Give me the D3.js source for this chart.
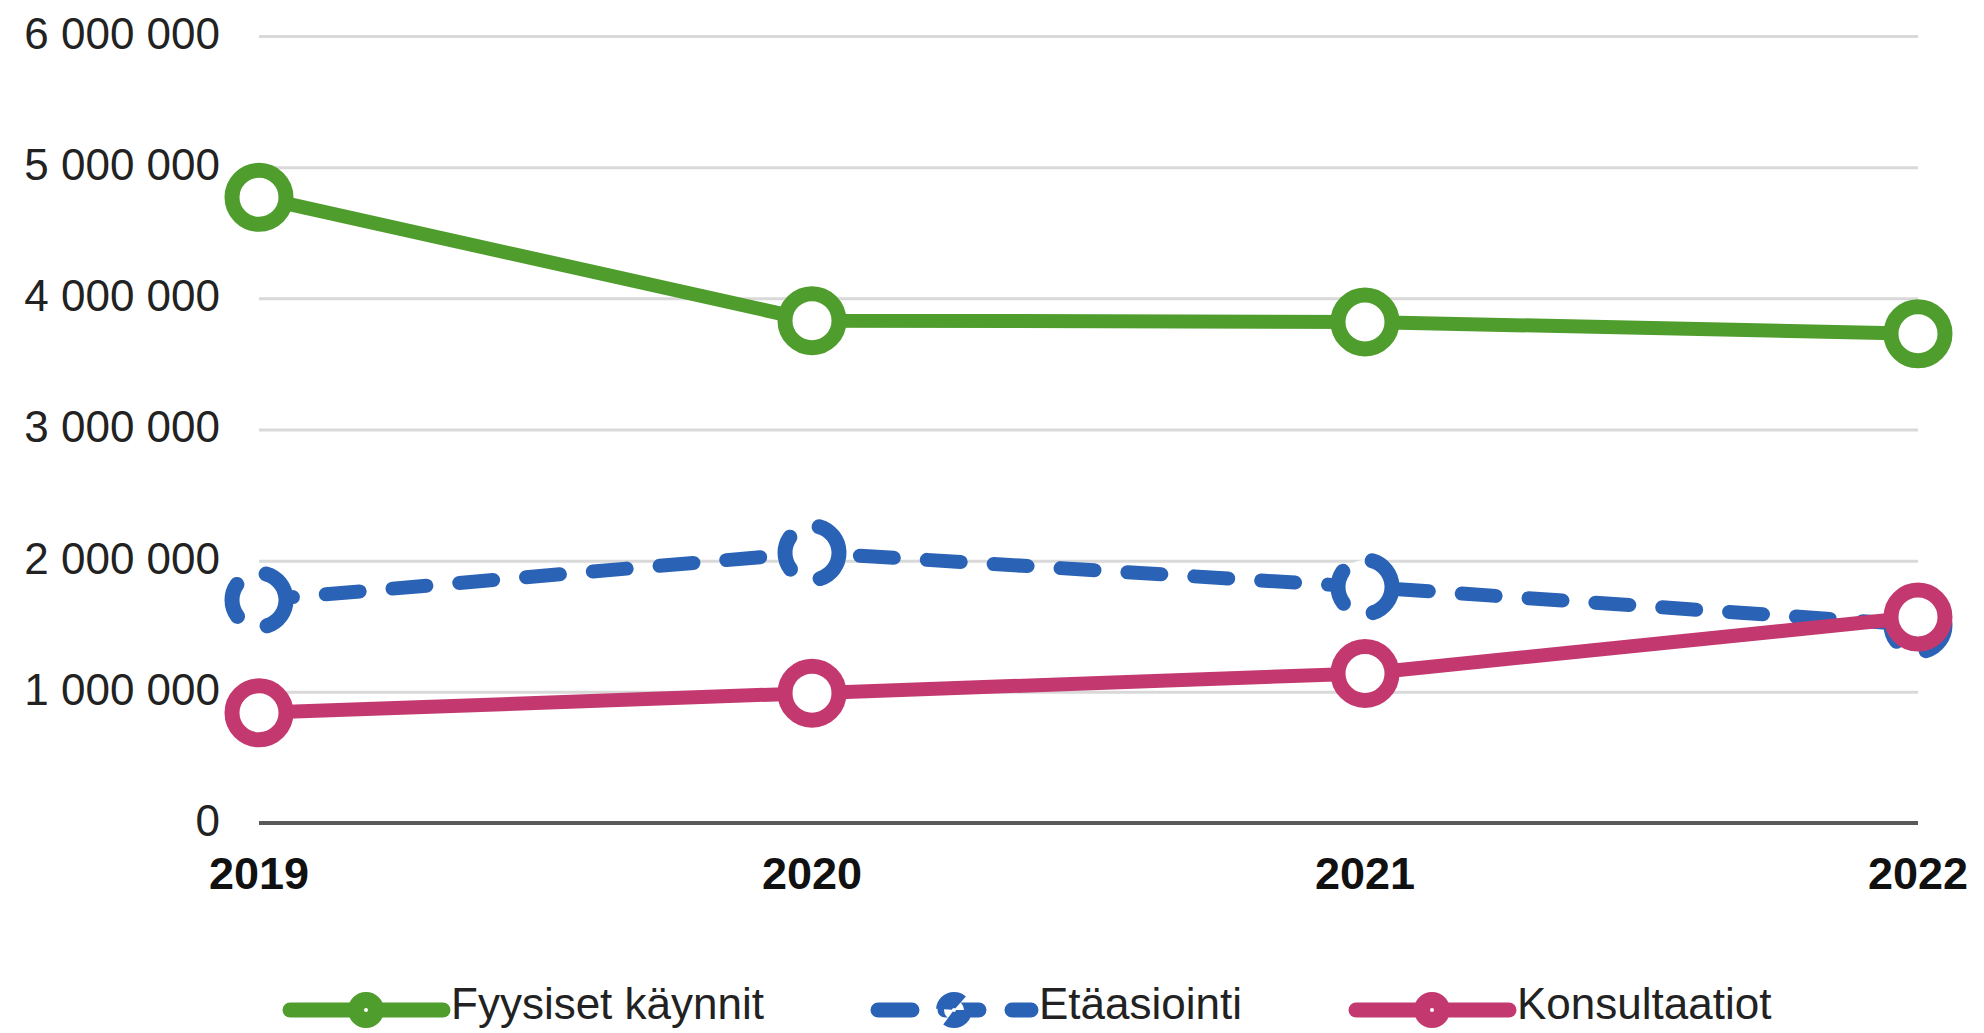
<!DOCTYPE html>
<html>
<head>
<meta charset="utf-8">
<script src="https://cdn.jsdelivr.net/npm/d3@7.9.0/dist/d3.min.js"></script>
<style>
  body { margin: 0; background: #fff; }
  svg { display: block; font-family: "Liberation Sans", Arial, sans-serif; }
</style>
</head>
<body>
<div id="chart"></div>
<script>
const years = ['2019', '2020', '2021', '2022'];
const yTicks = [0, 1000000, 2000000, 3000000, 4000000, 5000000, 6000000];

const seriesNames = ['Fyysiset käynnit', 'Etäasiointi', 'Konsultaatiot'];
const fyysiset = [4770000, 3830000, 3820000, 3730000];
const etaasiointi = [1700000, 2060000, 1800000, 1510000];
const konsultaatiot = [840000, 990000, 1140000, 1570000];

const seriesValues = [fyysiset, etaasiointi, konsultaatiot];
const seriesColors = ['#4f9d2d', '#2a62b6', '#c3396f'];
const seriesDash = [null, '34,33', null];

const width = 1984;
const height = 1033;
const plot = { left: 259, right: 1918, top: 36, bottom: 823 };

const fi = d3.formatLocale({ decimal: ',', thousands: ' ', grouping: [3], currency: ['', ''] });
const fmt = fi.format(',');

const svg = d3.select('#chart')
    .append('svg')
    .attr('width', width)
    .attr('height', height);

const x = d3.scalePoint()
    .domain(years)
    .range([plot.left, plot.right]);

const y = d3.scaleLinear()
    .domain([0, 6000000])
    .range([plot.bottom, plot.top]);

// gridlines
const grid = svg.append('g')
    .attr('transform', `translate(${plot.left},0)`)
    .call(d3.axisLeft(y).tickValues(yTicks.slice(1)).tickFormat('').tickSize(-(plot.right - plot.left)));
grid.select('.domain').remove();
grid.selectAll('line').attr('stroke', '#d9d9d9').attr('stroke-width', 3);

// y labels
svg.append('g')
    .selectAll('text')
    .data(yTicks)
    .join('text')
    .attr('x', 220)
    .attr('y', d => y(d) - 3)
    .attr('dy', '0.36em')
    .attr('text-anchor', 'end')
    .attr('font-size', 44)
    .attr('fill', '#222')
    .text(d => fmt(d));

// zero axis line
svg.append('line')
    .attr('x1', plot.left)
    .attr('x2', plot.right)
    .attr('y1', y(0))
    .attr('y2', y(0))
    .attr('stroke', '#595959')
    .attr('stroke-width', 4);

// x labels
svg.append('g')
    .selectAll('text')
    .data(years)
    .join('text')
    .attr('x', d => x(d))
    .attr('y', 889)
    .attr('text-anchor', 'middle')
    .attr('font-size', 45)
    .attr('font-weight', 'bold')
    .attr('fill', '#111')
    .text(d => d);

const line = d3.line()
    .x((d, i) => x(years[i]))
    .y(d => y(d));

seriesValues.forEach((vals, s) => {
    const g = svg.append('g');
    g.append('path')
        .datum(vals)
        .attr('d', line)
        .attr('fill', 'none')
        .attr('stroke', seriesColors[s])
        .attr('stroke-width', 14)
        .attr('stroke-linecap', seriesDash[s] ? 'round' : 'butt')
        .attr('stroke-linejoin', 'round')
        .attr('stroke-dasharray', seriesDash[s]);

    g.selectAll('circle')
        .data(vals)
        .join('circle')
        .attr('cx', (d, i) => x(years[i]))
        .attr('cy', d => y(d))
        .attr('r', 27)
        .attr('fill', '#fff')
        .attr('stroke', seriesColors[s])
        .attr('stroke-width', 15)
        .attr('stroke-linecap', seriesDash[s] ? 'round' : 'butt')
        .attr('stroke-dasharray', seriesDash[s]);
});

// legend
const legend = svg.append('g').attr('transform', 'translate(0,1010)');
let lx = 290;
seriesNames.forEach((name, s) => {
    const item = legend.append('g').attr('transform', `translate(${lx},0)`);
    item.append('line')
        .attr('x1', 0).attr('x2', 153)
        .attr('stroke', seriesColors[s])
        .attr('stroke-width', 15)
        .attr('stroke-linecap', 'round')
        .attr('stroke-dasharray', seriesDash[s]);
    item.append('circle')
        .attr('cx', 76).attr('r', 10)
        .attr('fill', '#fff')
        .attr('stroke', seriesColors[s])
        .attr('stroke-width', 16)
        .attr('stroke-dasharray', seriesDash[s] ? '22,10' : null);
    const t = item.append('text')
        .attr('x', 161)
        .attr('y', 9)
        .attr('font-size', 44)
        .attr('fill', '#222')
        .text(name);
    lx += 161 + t.node().getComputedTextLength() + 114;
});
</script>
</body>
</html>
